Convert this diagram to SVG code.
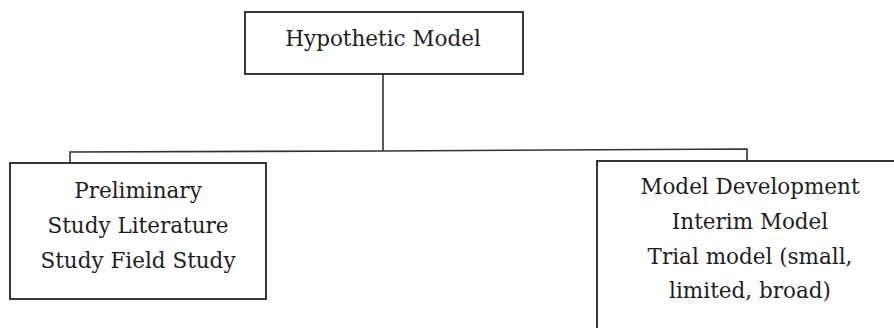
<svg xmlns="http://www.w3.org/2000/svg" width="894" height="328" viewBox="0 0 894 328">
<style>
.box{fill:#fff;stroke:#222;stroke-width:1.8}
.conn{fill:none;stroke:#333;stroke-width:1.6}
.t{font-family:"DejaVu Serif","Liberation Serif",serif;font-size:21.5px;fill:#1e1e1e;text-anchor:middle}
</style>
<rect width="894" height="328" fill="#fff"/>
<g id="connectors">
<line class="conn" x1="383" y1="74" x2="383" y2="151"/>
<polyline class="conn" points="70,163 70,152 383,151 747,149 747,161"/>
</g>
<g id="hypothetic-model">
<rect class="box" x="245" y="12" width="278" height="62"/>
<text class="t" x="383" y="46">Hypothetic Model</text>
</g>
<g id="preliminary-study">
<rect class="box" x="10" y="163" width="256" height="136"/>
<text class="t" x="138" y="198">Preliminary</text>
<text class="t" x="138" y="233">Study Literature</text>
<text class="t" x="138" y="268">Study Field Study</text>
</g>
<g id="model-development">
<rect class="box" x="597" y="161" width="330" height="200"/>
<text class="t" x="750" y="194">Model Development</text>
<text class="t" x="750" y="229">Interim Model</text>
<text class="t" x="750" y="264">Trial model (small,</text>
<text class="t" x="750" y="298">limited, broad)</text>
</g>
</svg>
